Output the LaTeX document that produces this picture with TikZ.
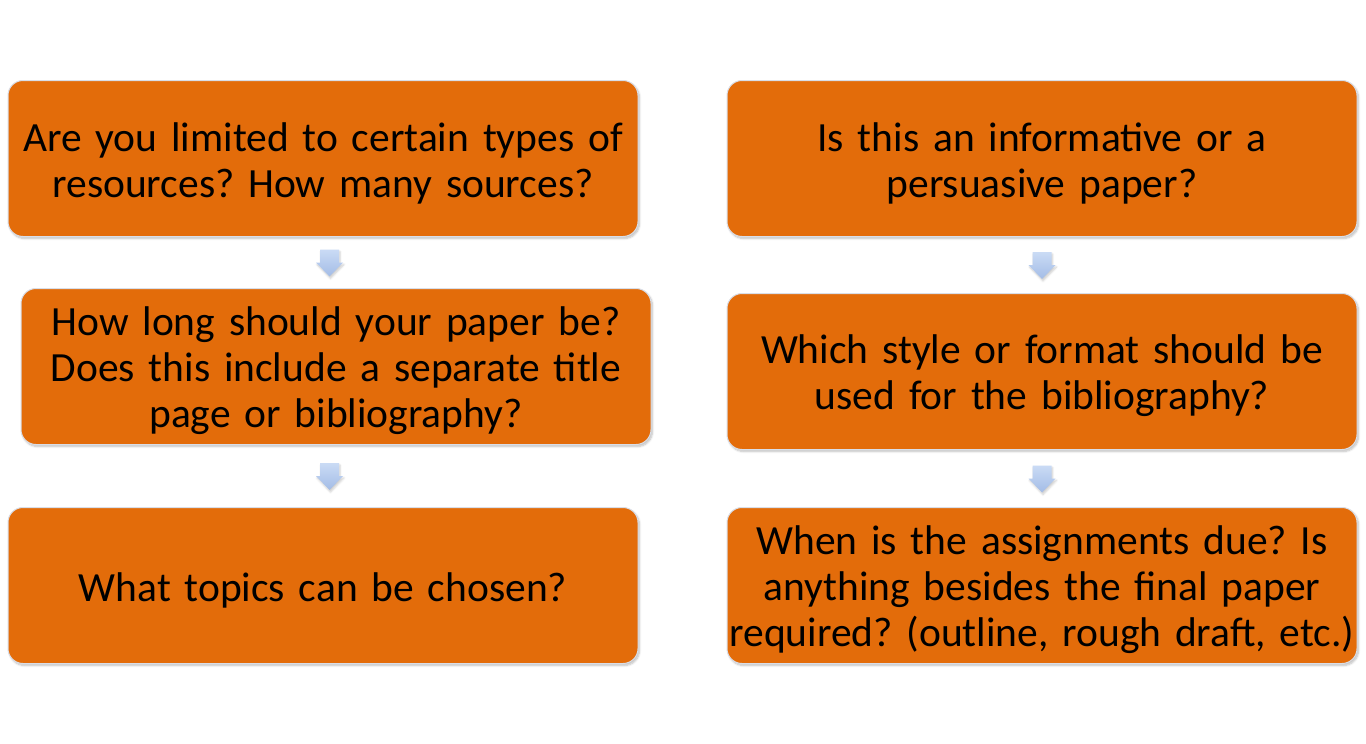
\documentclass[tikz,border=0pt]{standalone}
\usepackage{fontspec}
\setmainfont{Carlito}
\usetikzlibrary{positioning,calc,shadows.blur}

\definecolor{boxorange}{HTML}{E36C0A}
\definecolor{boxedge}{HTML}{D9DEE8}
\definecolor{arrowtop}{HTML}{CADBF5}
\definecolor{arrowbot}{HTML}{A3BCE6}

\tikzset{
  question/.style={draw=boxedge, line width=1pt, fill=boxorange, rounded corners=15pt,
    minimum width=630pt, minimum height=156pt, text width=626pt, align=center,
    font=\fontsize{41.5}{46}\selectfont\frenchspacing, inner sep=0pt,
    execute at begin node={\vrule height 38pt depth 0pt width 0pt},
    blur shadow={shadow xshift=1.5pt, shadow yshift=-2pt, shadow opacity=25, shadow blur steps=6}},
  downarrow/.pic={
    \path[top color=arrowtop, bottom color=arrowbot,
      blur shadow={shadow xshift=1pt, shadow yshift=-2pt, shadow opacity=20, shadow blur steps=4}]
      (-9.5,-13) -- (9.5,-13) -- (9.5,0) -- (13.5,0) -- (0,14) -- (-13.5,0) -- (-9.5,0) -- cycle;
  }
}

\begin{document}
\begin{tikzpicture}[x=1pt,y=-1pt]
\useasboundingbox (0,0) rectangle (1366,744);

% left column
\node[question] (q1) at (323,158.5) {Are you limited to certain types of\\resources? How many sources?};
\node[question, below=51pt of q1, xshift=13pt] (q2) {How long should your paper be?\\Does this include a separate title\\page or bibliography?};
\node[question, below=62pt of q2, xshift=-13pt] (q3) {What topics can be chosen?};

% right column
\node[question] (r1) at (1042,158.5) {Is this an informative or a\\persuasive paper?};
\node[question, below=56pt of r1] (r2) {Which style or format should be\\used for the bibliography?};
\node[question, below=57pt of r2] (r3) {When is the assignments due? Is\\anything besides the final paper\\required? (outline, rough draft, etc.)};

% arrows between boxes
\coordinate (m1) at ($(q1.south)!0.5!(q2.north)$);
\coordinate (m2) at ($(q2.south)!0.5!(q3.north)$);
\coordinate (m3) at ($(r1.south)!0.5!(r2.north)$);
\coordinate (m4) at ($(r2.south)!0.5!(r3.north)$);
\foreach \m in {m1,m2,m3,m4}
  \pic at (\m) {downarrow};
\end{tikzpicture}
\end{document}
